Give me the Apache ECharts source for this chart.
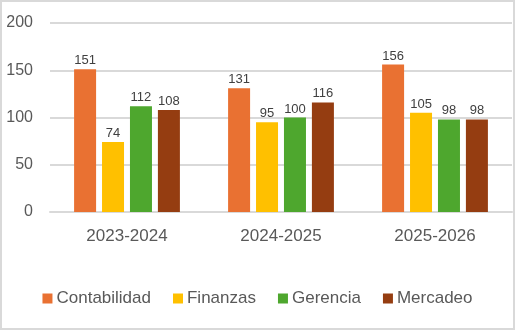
<!DOCTYPE html>
<html style="height: 100%">
<head>
  <meta charset="utf-8">
  <script src="https://cdn.jsdelivr.net/npm/echarts@6/dist/echarts.min.js"></script>
  <style>* { margin: 0; padding: 0; }</style>
</head>
<body style="height: 100%; margin: 0; background: #fff">
  <div id="container" style="width: 515px; height: 330px"></div>
  <script>
    var periodos = ['2023-2024', '2024-2025', '2025-2026'];
    var contabilidad = [151, 131, 156];
    var finanzas = [74, 95, 105];
    var gerencia = [112, 100, 98];
    var mercadeo = [108, 116, 98];
    var yTicks = [0, 50, 100, 150, 200];

    var colores = ['#E97132', '#FFC000', '#4EA72E', '#953D11'];
    var fuente = 'Liberation Sans, Arial, sans-serif';

    function serie(nombre, datos) {
      return {
        name: nombre,
        type: 'bar',
        data: datos,
        barWidth: 22,
        barGap: '27%',
        label: {
          show: true,
          position: 'top',
          distance: 2,
          color: '#404040',
          fontFamily: fuente,
          fontSize: 13
        }
      };
    }

    var chart = echarts.init(document.getElementById('container'));
    chart.setOption({
      animation: false,
      color: colores,
      textStyle: { fontFamily: fuente },
      graphic: [{
        type: 'rect',
        shape: { x: 1, y: 1, width: 513, height: 328 },
        style: { fill: 'none', stroke: '#d9d9d9', lineWidth: 2 },
        silent: true
      }],
      grid: { left: 50, right: 3, top: 23, bottom: 118 },
      legend: {
        bottom: 18,
        left: 'center',
        icon: 'rect',
        itemWidth: 10,
        itemHeight: 10,
        itemGap: 22,
        textStyle: { color: '#595959', fontSize: 17, fontFamily: fuente, padding: [0, 0, 0, -1] },
        data: ['Contabilidad', 'Finanzas', 'Gerencia', 'Mercadeo']
      },
      xAxis: {
        type: 'category',
        data: periodos,
        axisLine: { lineStyle: { color: '#d9d9d9', width: 2 } },
        axisTick: { show: false },
        axisLabel: { color: '#595959', fontSize: 17, margin: 16, fontFamily: fuente }
      },
      yAxis: {
        type: 'value',
        min: yTicks[0],
        max: yTicks[yTicks.length - 1],
        interval: 50,
        axisLine: { show: false },
        axisTick: { show: false },
        splitLine: { lineStyle: { color: '#d9d9d9', width: 2 } },
        axisLabel: { color: '#595959', fontSize: 16, margin: 17, fontFamily: fuente }
      },
      series: [
        serie('Contabilidad', contabilidad),
        serie('Finanzas', finanzas),
        serie('Gerencia', gerencia),
        serie('Mercadeo', mercadeo)
      ]
    });
  </script>
</body>
</html>
